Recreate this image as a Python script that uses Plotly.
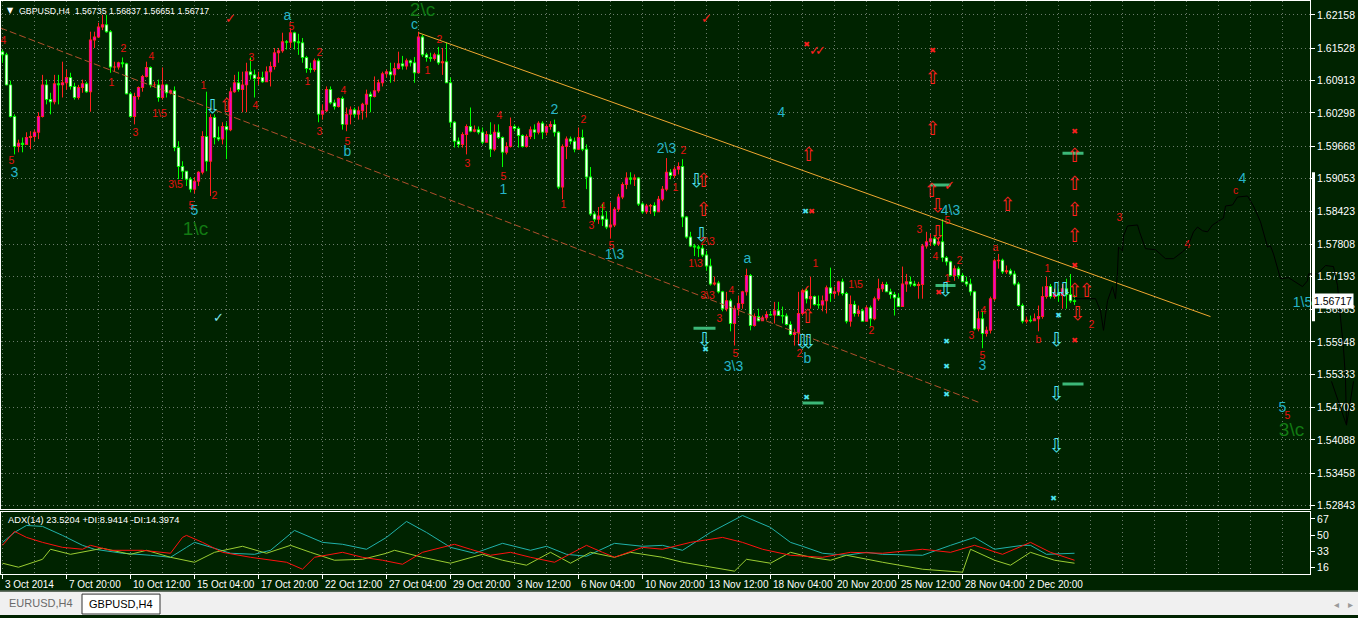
import plotly.graph_objects as go

W, H = 1358, 618
BG = "#002300"

# ---------------- price data (H4 bars, index 0 = first visible bar) ----------------
first_open = 1.6146
close = [1.6140,1.6083,1.6023,1.5966,1.5972,1.5970,1.5983,1.5985,1.5993,1.6023,
         1.6083,1.6055,1.6051,1.6085,1.6083,1.6087,1.6097,1.6080,1.6059,1.6078,
         1.6085,1.6070,1.6168,1.6174,1.6193,1.6197,1.6184,1.6117,1.6117,1.6125,
         1.6123,1.6066,1.6023,1.6061,1.6078,1.6099,1.6116,1.6083,1.6083,1.6059,
         1.6083,1.6068,1.6072,1.5964,1.5928,1.5919,1.5904,1.5885,1.5900,1.5917,
         1.5985,1.5938,1.6021,1.5983,1.5980,1.6004,1.5998,1.6070,1.6087,1.6074,
         1.6083,1.6108,1.6102,1.6095,1.6097,1.6089,1.6108,1.6118,1.6144,1.6148,
         1.6165,1.6164,1.6182,1.6165,1.6163,1.6135,1.6114,1.6112,1.6129,1.6027,
         1.6034,1.6074,1.6049,1.6042,1.6057,1.6008,1.6027,1.6036,1.6027,1.6034,
         1.6046,1.6065,1.6061,1.6072,1.6087,1.6104,1.6108,1.6102,1.6114,1.6123,
         1.6119,1.6129,1.6125,1.6106,1.6174,1.6140,1.6135,1.6133,1.6140,1.6125,
         1.6127,1.6087,1.6012,1.5976,1.5970,1.5989,1.6004,1.5995,1.5998,1.5993,
         1.5974,1.5989,1.5961,1.5993,1.5983,1.5955,1.5966,1.6004,1.6000,1.5987,
         1.5966,1.5985,1.5998,1.5993,1.6010,1.5993,1.6004,1.6008,1.5993,1.5889,
         1.5966,1.5980,1.5976,1.5961,1.5983,1.5961,1.5908,1.5838,1.5828,1.5834,
         1.5828,1.5813,1.5817,1.5847,1.5870,1.5894,1.5906,1.5904,1.5906,1.5857,
         1.5842,1.5853,1.5854,1.5842,1.5866,1.5885,1.5917,1.5911,1.5923,1.5928,
         1.5832,1.5794,1.5777,1.5775,1.5773,1.5760,1.5739,1.5705,1.5707,1.5690,
         1.5658,1.5673,1.5630,1.5658,1.5668,1.5690,1.5721,1.5626,1.5643,1.5635,
         1.5641,1.5647,1.5646,1.5654,1.5645,1.5644,1.5628,1.5609,1.5613,1.5649,
         1.5692,1.5677,1.5681,1.5666,1.5665,1.5673,1.5698,1.5687,1.5690,1.5709,
         1.5687,1.5634,1.5666,1.5649,1.5654,1.5634,1.5660,1.5639,1.5677,1.5696,
         1.5704,1.5690,1.5685,1.5679,1.5662,1.5705,1.5709,1.5705,1.5702,1.5704,
         1.5777,1.5785,1.5791,1.5781,1.5785,1.5755,1.5747,1.5721,1.5734,1.5721,
         1.5709,1.5705,1.5690,1.5620,1.5639,1.5611,1.5617,1.5677,1.5749,1.5750,
         1.5728,1.5730,1.5724,1.5705,1.5664,1.5634,1.5636,1.5635,1.5639,1.5643,
         1.5681,1.5700,1.5681,1.5688,1.5683,1.5696,1.5685,1.5673,1.56717]
high = [1.6150,1.6144,1.6091,1.6027,1.5979,1.5983,1.5993,1.5995,1.5998,1.6031,
        1.6102,1.6093,1.6068,1.6102,1.6102,1.6127,1.6112,1.6106,1.6087,1.6083,
        1.6093,1.6089,1.6184,1.6184,1.6201,1.6216,1.6216,1.6187,1.6127,1.6127,
        1.6135,1.6125,1.6070,1.6068,1.6080,1.6102,1.6127,1.6118,1.6089,1.6093,
        1.6116,1.6085,1.6074,1.6080,1.5976,1.5938,1.5919,1.5908,1.5908,1.5919,
        1.5995,1.6070,1.6027,1.6027,1.6004,1.6012,1.6012,1.6078,1.6102,1.6108,
        1.6108,1.6125,1.6135,1.6112,1.6108,1.6108,1.6118,1.6127,1.6153,1.6153,
        1.6182,1.6168,1.6191,1.6184,1.6180,1.6172,1.6138,1.6125,1.6133,1.6133,
        1.6046,1.6080,1.6080,1.6055,1.6059,1.6061,1.6040,1.6042,1.6040,1.6042,
        1.6049,1.6074,1.6070,1.6099,1.6093,1.6108,1.6112,1.6125,1.6125,1.6146,
        1.6138,1.6133,1.6131,1.6136,1.6184,1.6178,1.6144,1.6144,1.6144,1.6155,
        1.6153,1.6163,1.6097,1.6014,1.5983,1.5993,1.6008,1.6040,1.6006,1.6004,
        1.6002,1.5995,1.6012,1.6008,1.6008,1.5985,1.5974,1.6021,1.6008,1.6004,
        1.5989,1.5989,1.6004,1.6008,1.6014,1.6014,1.6008,1.6014,1.6017,1.5995,
        1.5970,1.5985,1.5985,1.5983,1.6002,1.5998,1.5970,1.5927,1.5843,1.5851,
        1.5857,1.5843,1.5860,1.5851,1.5876,1.5898,1.5917,1.5917,1.5913,1.5908,
        1.5860,1.5857,1.5857,1.5860,1.5872,1.5891,1.5944,1.5923,1.5928,1.5936,
        1.5942,1.5834,1.5804,1.5781,1.5779,1.5781,1.5768,1.5753,1.5719,1.5711,
        1.5692,1.5690,1.5677,1.5664,1.5683,1.5692,1.5734,1.5724,1.5649,1.5658,
        1.5645,1.5653,1.5654,1.5671,1.5671,1.5662,1.5649,1.5634,1.5620,1.5690,
        1.5696,1.5696,1.5719,1.5683,1.5683,1.5683,1.5702,1.5736,1.5700,1.5711,
        1.5715,1.5690,1.5683,1.5673,1.5664,1.5658,1.5664,1.5664,1.5681,1.5715,
        1.5709,1.5709,1.5696,1.5690,1.5687,1.5738,1.5724,1.5719,1.5711,1.5709,
        1.5781,1.5804,1.5800,1.5796,1.5794,1.5828,1.5758,1.5749,1.5740,1.5738,
        1.5726,1.5719,1.5715,1.5692,1.5653,1.5654,1.5624,1.5681,1.5753,1.5762,
        1.5753,1.5740,1.5734,1.5730,1.5709,1.5668,1.5643,1.5645,1.5649,1.5664,
        1.5700,1.5719,1.5705,1.5696,1.5696,1.5705,1.5715,1.5724,1.56837]
low = [1.6125,1.6082,1.6021,1.5951,1.5955,1.5955,1.5970,1.5961,1.5976,1.5980,
       1.6021,1.6046,1.6027,1.6046,1.6046,1.6059,1.6074,1.6074,1.6055,1.6055,
       1.6068,1.6068,1.6032,1.6153,1.6172,1.6187,1.6182,1.6106,1.6108,1.6112,
       1.6116,1.6065,1.6021,1.6008,1.6055,1.6070,1.6097,1.6078,1.6078,1.6051,
       1.6055,1.6059,1.6065,1.5957,1.5904,1.5904,1.5891,1.5879,1.5877,1.5891,
       1.5913,1.5919,1.5872,1.5970,1.5976,1.5970,1.5942,1.5995,1.6068,1.6070,
       1.6031,1.6031,1.6093,1.6059,1.6083,1.6087,1.6089,1.6080,1.6112,1.6125,
       1.6144,1.6150,1.6153,1.6150,1.6140,1.6125,1.6106,1.6106,1.6108,1.6012,
       1.6017,1.6031,1.6046,1.6036,1.6040,1.5998,1.5995,1.6008,1.6021,1.6017,
       1.6017,1.6021,1.6031,1.6059,1.6068,1.6080,1.6097,1.6087,1.6089,1.6112,
       1.6112,1.6112,1.6118,1.6087,1.6106,1.6136,1.6127,1.6127,1.6129,1.6121,
       1.6102,1.6087,1.6002,1.5964,1.5964,1.5964,1.5951,1.5993,1.5993,1.5989,
       1.5970,1.5974,1.5946,1.5957,1.5980,1.5927,1.5951,1.5964,1.5995,1.5964,
       1.5964,1.5964,1.5980,1.5980,1.5989,1.5980,1.5987,1.5998,1.5985,1.5885,
       1.5866,1.5942,1.5970,1.5955,1.5961,1.5957,1.5885,1.5834,1.5823,1.5819,
       1.5815,1.5809,1.5791,1.5813,1.5842,1.5866,1.5885,1.5894,1.5891,1.5853,
       1.5838,1.5838,1.5838,1.5834,1.5847,1.5862,1.5881,1.5904,1.5906,1.5913,
       1.5813,1.5791,1.5775,1.5758,1.5756,1.5756,1.5730,1.5702,1.5702,1.5687,
       1.5653,1.5653,1.5615,1.5588,1.5645,1.5658,1.5683,1.5617,1.5624,1.5634,
       1.5636,1.5636,1.5645,1.5630,1.5645,1.5630,1.5626,1.5607,1.5588,1.5588,
       1.5645,1.5668,1.5658,1.5664,1.5658,1.5653,1.5649,1.5671,1.5677,1.5683,
       1.5683,1.5630,1.5624,1.5643,1.5643,1.5634,1.5649,1.5624,1.5636,1.5673,
       1.5690,1.5690,1.5677,1.5645,1.5662,1.5662,1.5690,1.5700,1.5700,1.5677,
       1.5677,1.5772,1.5777,1.5777,1.5777,1.5747,1.5740,1.5719,1.5711,1.5715,
       1.5709,1.5700,1.5683,1.5617,1.5615,1.5583,1.5605,1.5611,1.5673,1.5734,
       1.5724,1.5724,1.5721,1.5702,1.5662,1.5630,1.5630,1.5632,1.5636,1.5615,
       1.5639,1.5677,1.5677,1.5677,1.5671,1.5658,1.5658,1.5669,1.56651]

opens = [first_open] + close[:-1]
bars = list(range(len(close)))
hi = [max(h, o, c) for h, o, c in zip(high, opens, close)]
lo = [min(l, o, c) for l, o, c in zip(low, opens, close)]

# projected path (black line) beyond the last bar
proj_bar = [267.75,273.25,274.5,275.25,276.25,277.5,278.25,278.75,279,280,280.25,281.25,
            283.75,284.25,285.75,288.25,290.75,292.75,295,296.25,297.75,298.75,300,301.25,
            302.5,305.25,305.75,307.5,308.75,311.25,312.75,314.5,316.25,317,317.75,319.5,
            321.5,323.25,325,326.25,326.5,328.75,330.75,332.75,333.75,334.5,335.25,335.75,
            336,337.75,None,332.25,336]
proj_price = [1.5677,1.5677,1.5654,1.5617,1.5673,1.5700,1.5677,1.5728,1.5775,1.5768,1.5796,1.5815,
              1.5817,1.5804,1.5772,1.5770,1.5753,1.5753,1.5766,1.5775,1.5804,1.5813,1.5806,1.5804,
              1.5817,1.5830,1.5853,1.5855,1.5870,1.5872,1.5853,1.5823,1.5775,1.5777,1.5762,1.5715,
              1.5717,1.5709,1.5700,1.5711,1.5724,1.5724,1.5740,1.5738,1.5702,1.5640,1.5583,1.5525,
              1.5437,1.5520,None,1.5520,1.5437]

# trend lines (anchor bar, anchor price)
chan_top_bar = [104, 302]
chan_top_price = [1.6182, 1.5643]
chan_low_bar = [-0.5, 244.5]
chan_low_price = [1.6191, 1.5479]

# ---------------- ADX(14) ----------------
adx_bar = [0,3,6,10,15,20,23,30,37,42,46,48,53,57,63,67,73,80,85,91,96,101,106,112,118,125,132,136,
           141,146,153,160,165,170,177,185,192,197,200,205,211,216,220,230,237,243,248,255,257,261,268]
adx_val = [42.5,52.9,60.2,59.2,49.8,39.4,35.3,31.1,29.0,26.9,37.3,42.5,36.3,31.1,30.0,34.2,55.0,42.5,
           40.5,35.3,47.7,64.4,52.9,37.3,31.1,41.5,34.2,38.4,30.0,28.0,41.5,38.4,39.4,34.2,52.9,70.6,
           58.1,42.5,38.4,31.1,29.0,32.1,30.0,29.0,39.4,47.7,35.3,39.4,39.4,30.0,31.1]
mdi_bar = [0,3,6,10,15,20,22,27,35,42,45,46,50,55,62,71,75,78,85,90,95,100,105,113,117,122,127,132,
           138,146,150,153,160,165,172,180,185,190,197,205,212,220,230,237,243,250,257,262,268]
mdi_val = [39.4,54.0,47.7,42.5,37.3,35.3,39.4,34.2,34.2,31.1,47.7,49.8,42.5,32.1,26.9,21.7,14.4,26.9,
           32.1,26.9,23.8,19.6,32.1,40.5,35.3,29.0,32.1,26.9,21.7,39.4,32.1,26.9,37.3,35.3,42.5,47.7,
           42.5,35.3,29.0,26.9,32.1,31.1,35.3,32.1,39.4,30.0,42.5,32.1,23.8]
pdi_bar = [0,4,10,12,17,25,32,36,42,48,53,60,66,72,77,83,90,96,98,105,112,120,125,131,137,142,147,
           153,157,165,170,180,183,186,192,197,202,207,211,220,230,240,242,248,252,257,263,268]
pdi_val = [20.7,16.5,24.8,35.3,30.0,36.3,30.0,34.2,26.9,21.7,32.1,38.4,31.1,39.4,32.1,23.8,24.8,31.1,
           34.2,26.9,20.7,30.0,23.8,18.6,32.1,20.7,32.1,26.9,32.1,26.9,21.7,14.4,12.4,24.8,20.7,32.1,
           26.9,23.8,29.0,21.7,14.4,11.3,35.3,23.8,18.6,32.1,23.8,20.7]

# ---------------- axis labels ----------------
price_ticks = [1.62158,1.61528,1.60913,1.60298,1.59668,1.59053,1.58423,1.57808,1.57193,
               1.56563,1.55948,1.55333,1.54703,1.54088,1.53458,1.52843]
time_labels = ["3 Oct 2014","7 Oct 20:00","10 Oct 12:00","15 Oct 04:00","17 Oct 20:00",
               "22 Oct 12:00","27 Oct 04:00","29 Oct 20:00","3 Nov 12:00","6 Nov 04:00",
               "10 Nov 20:00","13 Nov 12:00","18 Nov 04:00","20 Nov 20:00","25 Nov 12:00",
               "28 Nov 04:00","2 Dec 20:00"]
time_label_bars = [16 * k for k in range(len(time_labels))]
adx_ticks = [67, 50, 33, 16]

# ---------------- wave labels & signals ----------------
red_txt = ["4","5","2","1","4","3","1\\5","1","3\\5","2","5","3","4","5","2","1","3","4","5","2","1",
           "4","3","5","2","1","4","3","5","2","1","2\\3","1\\3","3\\3","3","4","5","1","2","1\\5",
           "2","3","5","4","2","1","3","4","5","a","1","b","2","3","4","c","5"]
red_bar = [0.25,2.25,30.25,27.25,37.25,33.25,39.25,50.25,43.25,53,47.25,62.25,63.25,72.25,79.25,
           76.25,79.25,85.25,86.25,109.25,106.25,124.25,116.25,125.25,145.25,140.25,150,147.25,152.25,
           170.25,168.25,176.25,173.25,176.25,179.25,182.25,183.25,203.25,199.25,213.25,217.25,
           229.25,236.25,233.25,239.25,236.25,242.25,245.25,245,248.25,261.25,259,272.25,279.25,
           296.25,308.25,321.25]
red_price = [1.6165,1.5938,1.6150,1.6085,1.6136,1.5991,1.6027,1.6080,1.5893,1.5872,1.5853,1.6133,
             1.6042,1.6193,1.6142,1.6087,1.5993,1.6070,1.5974,1.6168,1.6108,1.6023,1.5932,1.5908,
             1.6015,1.5855,1.5851,1.5815,1.5777,1.5957,1.5887,1.5783,1.5742,1.5681,1.5638,1.5690,
             1.5571,1.5742,1.5571,1.5702,1.5615,1.5806,1.5823,1.5755,1.5747,1.5713,1.5605,1.5652,
             1.5568,1.5772,1.5732,1.5598,1.5626,1.5830,1.5779,1.5881,1.5454]
cyan_txt = ["3","5","a","b","c","1","2","1\\3","2\\3","3\\3","a","b","4","4\\3","3","4","1\\5","5"]
cyan_bar = [3,48,71.25,86.25,103,125.25,138,153,166,182.75,186.25,201.25,194.75,237,245,310,325,320]
cyan_price = [1.5915,1.5842,1.6212,1.5955,1.6195,1.5883,1.6034,1.5759,1.5961,1.5547,1.5751,1.5562,
              1.6029,1.5843,1.5549,1.5904,1.5668,1.5469]
green_txt = ["1\\c", "2\\c", "3\\c"]
green_bar = [48.25, 105, 322.25]
green_price = [1.5806, 1.6223, 1.5426]

red_up_bar = [56,175.25,175.25,201.25,201.5,232.5,232.5,232.25,251.25,268,268,268,268,268,271]
red_up_price = [1.6040,1.5898,1.5843,1.5640,1.5947,1.6093,1.5996,1.5879,1.5853,1.5946,1.5893,
                1.5843,1.5793,1.5690,1.5690]
red_dn_bar = [233.75, 233.75, 268.75]
red_dn_price = [1.5851, 1.5800, 1.5645]
cyan_dn_bar = [52.5,173.5,174.75,175.5,235.75,263.5,263.5,263.5,263.5,265.5,200,201.5]
cyan_dn_price = [1.6038,1.5898,1.5796,1.5596,1.5692,1.5596,1.5494,1.5394,1.5692,1.5692,1.5592,1.5592]
red_x_bar = [201, 202.25, 232.5, 234, 268, 268, 268]
red_x_price = [1.6159, 1.5842, 1.6148, 1.5688, 1.5993, 1.5740, 1.5596]
cyan_x_bar = [200.75, 175.75, 201, 236, 236, 236, 264, 262.75]
cyan_x_price = [1.5842, 1.5579, 1.5488, 1.5594, 1.5547, 1.5494, 1.5645, 1.5297]
red_chk_bar = [57, 176, 236.75, 200.75, 203, 204.5]
red_chk_price = [1.6206, 1.6206, 1.5889, 1.5692, 1.6146, 1.6146]
cyan_chk_bar = [54]
cyan_chk_price = [1.5638]
level_start = [172.75, 200, 232, 233.25, 265, 265]
level_end = [178.25, 205.25, 237, 238.25, 270.25, 270.25]
level_price = [1.5621, 1.5479, 1.5893, 1.5702, 1.5953, 1.5515]

# ---------------- layout geometry ----------------
def fx(p):
    return p / W

def fy(p):
    return 1 - p / H

main_dom_y = [fy(511), fy(1)]
adx_dom_y = [fy(577), fy(514)]
x_dom = [fx(1), fx(1310)]
x_range = [-0.375, 326.875]
y_range = [1.527862, 1.624225]
PX_PRICE = (y_range[1] - y_range[0]) / 510.0   # price span of one screen pixel

RED = "#e81010"
CYAN_T = "#26b5c8"
CYAN_M = "#4fe3f0"
GREEN_T = "#127a12"
FONT = "Liberation Sans"
BULL_FILL, BULL_LINE = "#ee00cc", "#ff2020"
BEAR_FILL, BEAR_LINE = "#ffffff", "#00ff00"

fig = go.Figure()

# wicks
for up, col in ((True, BULL_LINE), (False, BEAR_LINE)):
    wx, wy = [], []
    for i, o, c, h, l in zip(bars, opens, close, hi, lo):
        if (c >= o) == up:
            wx += [i, i, None]
            wy += [l, h, None]
    fig.add_trace(go.Scatter(x=wx, y=wy, mode="lines", line=dict(color=col, width=1),
                             hoverinfo="skip", showlegend=False))
# bodies: outline colour as a 3px stroke, fill colour as a 2px stroke inside
for up, fill, edge in ((True, BULL_FILL, BULL_LINE), (False, BEAR_FILL, BEAR_LINE)):
    ox, oy, ix, iy = [], [], [], []
    for i, o, c in zip(bars, opens, close):
        if (c >= o) == up:
            lo_b, hi_b = min(o, c), max(o, c)
            ox += [i, i, None]
            oy += [lo_b - 0.5 * PX_PRICE, hi_b + 0.5 * PX_PRICE, None]
            if hi_b - lo_b > 1.2 * PX_PRICE:
                ix += [i, i, None]
                iy += [lo_b + 0.5 * PX_PRICE, hi_b - 0.5 * PX_PRICE, None]
    fig.add_trace(go.Scatter(x=ox, y=oy, mode="lines", line=dict(color=edge, width=3.2),
                             hoverinfo="skip", showlegend=False))
    fig.add_trace(go.Scatter(x=ix, y=iy, mode="lines", line=dict(color=fill, width=1.8),
                             hoverinfo="skip", showlegend=False))

fig.add_trace(go.Scatter(x=chan_top_bar, y=chan_top_price, mode="lines",
                         line=dict(color="#f0a830", width=1), hoverinfo="skip", showlegend=False))
fig.add_trace(go.Scatter(x=chan_low_bar, y=chan_low_price, mode="lines",
                         line=dict(color="#b0502c", width=1, dash="7px,3px"),
                         hoverinfo="skip", showlegend=False))

lvl_x, lvl_y = [], []
for s, e, p in zip(level_start, level_end, level_price):
    lvl_x += [s, e, None]
    lvl_y += [p, p, None]
fig.add_trace(go.Scatter(x=lvl_x, y=lvl_y, mode="lines", line=dict(color="#3cb878", width=3),
                         hoverinfo="skip", showlegend=False))

def text_trace(xs, ys, txt, color, size, family=FONT):
    return go.Scatter(x=xs, y=ys, mode="text", text=txt, textposition="middle center",
                      textfont=dict(color=color, size=size, family=family), cliponaxis=False,
                      hoverinfo="skip", showlegend=False)

fig.add_trace(text_trace(red_up_bar, red_up_price, ["⇧"] * len(red_up_bar), "#ff2020", 19, "DejaVu Sans"))
fig.add_trace(text_trace(red_dn_bar, red_dn_price, ["⇩"] * len(red_dn_bar), "#ff2020", 19, "DejaVu Sans"))
fig.add_trace(text_trace(cyan_dn_bar, cyan_dn_price, ["⇩"] * len(cyan_dn_bar), CYAN_M, 19, "DejaVu Sans"))
fig.add_trace(text_trace(red_x_bar, red_x_price, ["✖"] * len(red_x_bar), "#ff2020", 8, "DejaVu Sans"))
fig.add_trace(text_trace(cyan_x_bar, cyan_x_price, ["✖"] * len(cyan_x_bar), CYAN_M, 8, "DejaVu Sans"))
fig.add_trace(text_trace(red_chk_bar, red_chk_price, ["✓"] * len(red_chk_bar), "#ff2020", 13, "DejaVu Sans"))
fig.add_trace(text_trace(cyan_chk_bar, cyan_chk_price, ["✓"] * len(cyan_chk_bar), "#7fe8f0", 13, "DejaVu Sans"))
fig.add_trace(text_trace(red_bar, red_price, red_txt, RED, 10.5))
fig.add_trace(text_trace(cyan_bar, cyan_price, cyan_txt, CYAN_T, 14))
fig.add_trace(text_trace(green_bar, green_price, green_txt, GREEN_T, 19))

# projection on a full-width overlay axis pair (not clipped by the main panel)
fig.add_trace(go.Scatter(x=proj_bar, y=proj_price, mode="lines", line=dict(color="#000000", width=1),
                         connectgaps=False, hoverinfo="skip", showlegend=False,
                         xaxis="x3", yaxis="y3"))

# ADX panel
fig.add_trace(go.Scatter(x=adx_bar, y=adx_val, mode="lines", line=dict(color="#20b2aa", width=1),
                         hoverinfo="skip", showlegend=False, xaxis="x2", yaxis="y2"))
fig.add_trace(go.Scatter(x=pdi_bar, y=pdi_val, mode="lines", line=dict(color="#9acd32", width=1),
                         hoverinfo="skip", showlegend=False, xaxis="x2", yaxis="y2"))
fig.add_trace(go.Scatter(x=mdi_bar, y=mdi_val, mode="lines", line=dict(color="#ff1010", width=1),
                         hoverinfo="skip", showlegend=False, xaxis="x2", yaxis="y2"))

grid_col = "#6a7a6a"
GRID_DASH = "1px,3px"
axis_common = dict(showline=True, linecolor="#ffffff", linewidth=1, mirror=True, zeroline=False,
                   fixedrange=True)

fig.update_layout(
    width=W, height=H, margin=dict(l=0, r=0, t=0, b=0),
    paper_bgcolor=BG, plot_bgcolor="rgba(0,0,0,0)", showlegend=False,
    xaxis=dict(domain=x_dom, range=x_range, anchor="y", showticklabels=False, ticks="",
               showgrid=True, gridcolor=grid_col, griddash=GRID_DASH, gridwidth=1,
               tick0=0, dtick=8, **axis_common),
    yaxis=dict(domain=main_dom_y, range=y_range, anchor="x", side="right",
               tickvals=price_ticks, ticktext=[f"{v:.5f}" for v in price_ticks],
               ticks="outside", ticklen=4, tickcolor="#ffffff",
               tickfont=dict(color="#ffffff", size=10.5, family=FONT),
               showgrid=True, gridcolor=grid_col, griddash=GRID_DASH, gridwidth=1, **axis_common),
    xaxis2=dict(domain=x_dom, range=x_range, anchor="y2", showticklabels=False,
                tickvals=time_label_bars, ticks="outside", ticklen=4, tickcolor="#ffffff",
                showgrid=True, gridcolor=grid_col, griddash=GRID_DASH,
                minor=dict(tick0=0, dtick=8, showgrid=True, gridcolor=grid_col, griddash=GRID_DASH),
                **axis_common),
    yaxis2=dict(domain=adx_dom_y, range=[9.2, 74.8], anchor="x2", side="right",
                tickvals=adx_ticks, ticks="outside", ticklen=4, tickcolor="#ffffff",
                tickfont=dict(color="#ffffff", size=10.5, family=FONT), showgrid=False,
                **axis_common),
    xaxis3=dict(domain=[0, 1], range=[-0.625, 338.875], anchor="y3", visible=False, fixedrange=True),
    yaxis3=dict(domain=main_dom_y, range=y_range, anchor="x3", visible=False, fixedrange=True),
)

shapes = [
    dict(type="rect", xref="paper", yref="y", x0=fx(1312), x1=fx(1315), y0=1.5634, y1=1.5917,
         fillcolor="#ffffff", line=dict(width=0)),
    dict(type="rect", xref="paper", yref="paper", x0=0, x1=1, y0=0, y1=fy(595),
         fillcolor="#f0f0f0", line=dict(width=0)),
    dict(type="line", xref="paper", yref="paper", x0=0, x1=1, y0=fy(594), y1=fy(594),
         line=dict(color="#a0a0a0", width=1)),
    dict(type="rect", xref="paper", yref="paper", x0=fx(82), x1=fx(160), y0=fy(617), y1=fy(597),
         fillcolor="#ffffff", line=dict(color="#333333", width=1)),
]

annotations = [
    dict(xref="paper", yref="paper", x=fx(5), y=fy(11), text="▼", showarrow=False,
         xanchor="left", yanchor="middle", font=dict(color="#ffffff", size=8, family="DejaVu Sans")),
    dict(xref="paper", yref="paper", x=fx(17), y=fy(11),
         text="GBPUSD,H4  1.56735 1.56837 1.56651 1.56717", showarrow=False,
         xanchor="left", yanchor="middle", font=dict(color="#ffffff", size=8.8, family=FONT)),
    dict(xref="paper", yref="paper", x=fx(6), y=fy(523),
         text="ADX(14) 23.5204 +DI:8.9414 -DI:14.3974", showarrow=False,
         xanchor="left", yanchor="middle", font=dict(color="#ffffff", size=9.3, family=FONT)),
    dict(xref="paper", yref="y", x=fx(1312), y=close[-1], text="1.56717", showarrow=False,
         xanchor="left", yanchor="middle", bgcolor="#ffffff", borderpad=1,
         font=dict(color="#000000", size=10.5, family=FONT)),
    dict(xref="paper", yref="paper", x=fx(41), y=fy(606), text="EURUSD,H4", showarrow=False,
         xanchor="center", yanchor="middle", font=dict(color="#6a6a6a", size=11, family=FONT)),
    dict(xref="paper", yref="paper", x=fx(121), y=fy(607), text="GBPUSD,H4", showarrow=False,
         xanchor="center", yanchor="middle", font=dict(color="#000000", size=11, family=FONT)),
    dict(xref="paper", yref="paper", x=fx(1336), y=fy(607), text="◂", showarrow=False,
         xanchor="center", yanchor="middle", font=dict(color="#9a9a9a", size=10, family="DejaVu Sans")),
    dict(xref="paper", yref="paper", x=fx(1350), y=fy(607), text="▸", showarrow=False,
         xanchor="center", yanchor="middle", font=dict(color="#9a9a9a", size=10, family="DejaVu Sans")),
]
for b, t in zip(time_label_bars, time_labels):
    annotations.append(dict(xref="x2", yref="paper", x=b, y=fy(587), text=t, showarrow=False,
                            xanchor="left", yanchor="middle",
                            font=dict(color="#ffffff", size=10, family=FONT)))

fig.update_layout(shapes=shapes, annotations=annotations)

fig.write_html("out.html", config={"displayModeBar": False, "staticPlot": True},
               post_script="document.body.style.margin='0';document.body.style.overflow='hidden';")
